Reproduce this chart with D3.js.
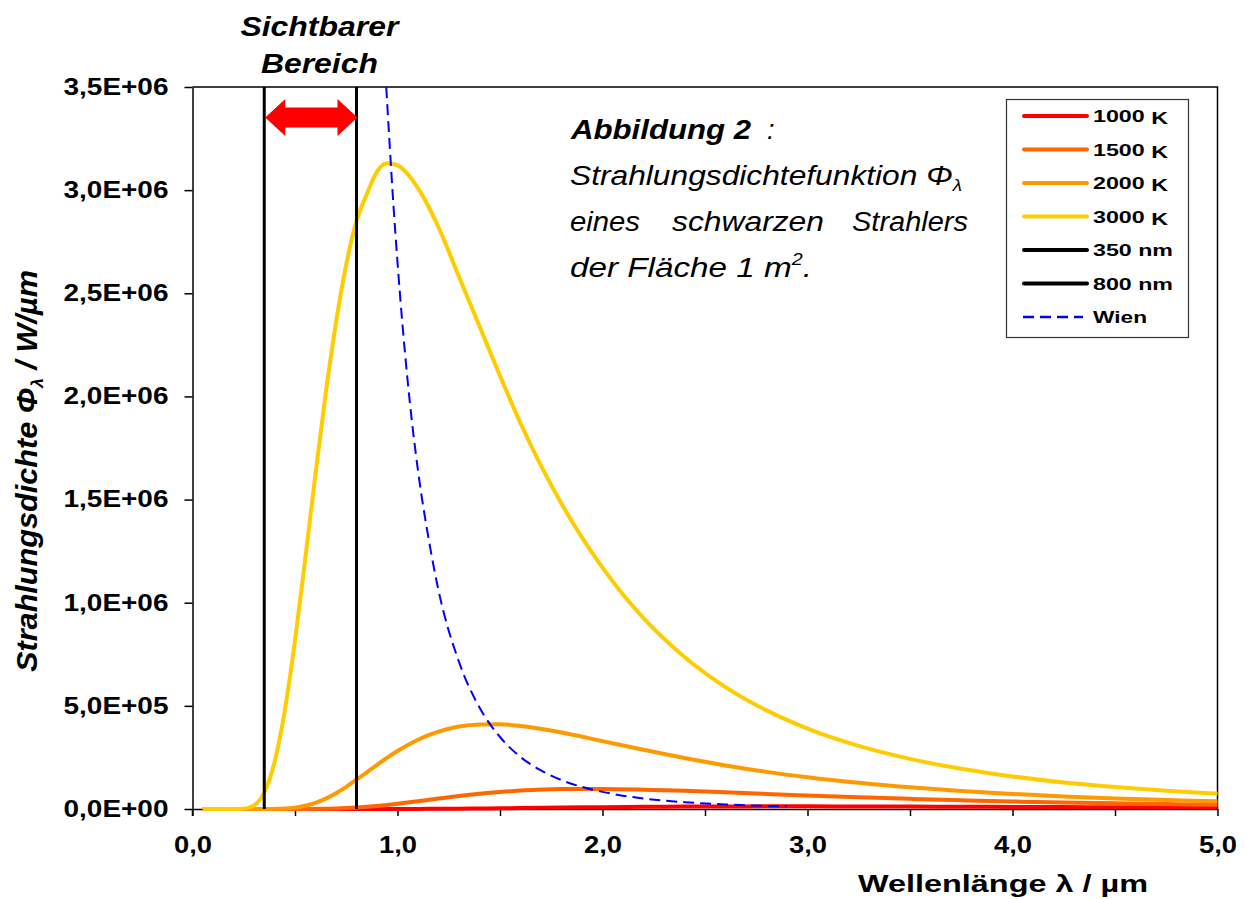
<!DOCTYPE html>
<html>
<head>
<meta charset="utf-8">
<script src="https://cdn.jsdelivr.net/npm/d3@7"></script>
<style>
  body { margin: 0; background: #fff; }
  svg { display: block; font-family: "Liberation Sans", Arial, sans-serif; }
</style>
</head>
<body>
<svg id="chart" width="1247" height="899"></svg>
<script>
// wavelength samples in µm (shared by the four temperature curves)
const wavelengths = [0.05, 0.1, 0.15, 0.2, 0.25, 0.3, 0.35, 0.4, 0.45, 0.5, 0.55, 0.6, 0.65, 0.7, 0.75, 0.8, 0.85, 0.9, 0.95, 1.0,
  1.1, 1.2, 1.3, 1.4, 1.5, 1.6, 1.8, 2.0, 2.2, 2.4, 2.6, 2.8, 3.0, 3.25, 3.5, 3.75, 4.0, 4.25, 4.5, 4.75, 5.0];

const t1000 = [0, 0, 0, 0, 0, 0, 0, 0, 0, 0, 0, 0, 0, 0, 0, 0, 0, 0, 100, 211,
  484, 934, 1575, 2390, 3364, 4440, 6690, 8790, 10500, 11700, 12500, 12800, 12800, 12500, 11900, 11100, 10300, 9470, 8640, 7850, 7140];
const t1500 = [0, 0, 0, 0, 0, 0, 0, 0, 0, 56, 198, 547, 1260, 2500, 4400, 7090, 10600, 14900, 19900, 25500,
  37900, 50800, 63000, 73700, 82500, 89100, 96600, 97400, 93900, 88000, 80800, 73100, 65600, 56900, 49200, 42400, 36500, 31500, 27300, 23700, 20600];
const t2000 = [0, 0, 0, 0, 0, 0, 0, 566, 2300, 6750, 15500, 29900, 50300, 76600, 107600, 142000, 178000, 214000, 249000, 281000,
  336000, 375000, 400000, 410000, 411000, 402000, 371000, 329000, 287000, 247000, 211000, 180000, 154000, 127000, 105000, 87000, 73000, 61000, 51000, 44000, 37000];
const t3000 = [0, 0, 0, 0, 1800, 17500, 80000, 227000, 476000, 817000, 1213000, 1625000, 2016000, 2358000, 2640000, 2850000, 2980000, 3090000, 3130000, 3120000,
  3010000, 2820000, 2580000, 2340000, 2100000, 1870000, 1480000, 1170000, 925000, 737000, 591000, 478000, 390000, 306000, 243000, 195000, 158000, 129000, 107000, 89000, 74000];

// Wien's displacement locus (peak of each curve)
const wienL = [0.945, 0.96, 0.98, 1.0, 1.05, 1.1, 1.15, 1.2, 1.3, 1.4, 1.5, 1.6, 1.7, 1.8, 1.9, 2.0, 2.2, 2.4, 2.6, 2.8, 2.9];
const wienV = [3500000, 3250000, 2930000, 2650000, 2070000, 1640000, 1320000, 1060000, 713000, 492000, 349000, 252000, 187000, 140000, 107000, 83000, 51000, 33000, 22000, 15000, 13000];

// visible range markers (µm)
const visibleRange = [0.35, 0.8];

const seriesNames = ["1000 K", "1500 K", "2000 K", "3000 K"];
const seriesColors = ["#ff0000", "#ff6600", "#ff9900", "#ffcc00"];
const seriesValues = [t1000, t1500, t2000, t3000];

const xTicks = [0, 0.5, 1, 1.5, 2, 2.5, 3, 3.5, 4, 4.5, 5];
const yTicks = [0, 500000, 1000000, 1500000, 2000000, 2500000, 3000000, 3500000];
const yTickLabels = ["0,0E+00", "5,0E+05", "1,0E+06", "1,5E+06", "2,0E+06", "2,5E+06", "3,0E+06", "3,5E+06"];

const plot = {left: 192.5, right: 1217.5, top: 87, bottom: 809};

const svg = d3.select("#chart");

const x = d3.scaleLinear().domain([0, 5]).range([plot.left, plot.right]);
const y = d3.scaleLinear().domain([0, 3500000]).range([plot.bottom, plot.top]);

// frame (top and right)
svg.append("path")
  .attr("d", `M${plot.left},${plot.top}H${plot.right}V${plot.bottom}`)
  .attr("fill", "none")
  .attr("stroke", "#000")
  .attr("stroke-width", 1.5);

// axes
const yAxis = svg.append("g")
  .attr("transform", `translate(${plot.left},0)`)
  .call(d3.axisLeft(y).tickValues(yTicks).tickSize(8).tickSizeOuter(0).tickPadding(16)
    .tickFormat((d, i) => yTickLabels[i]));
const xAxis = svg.append("g")
  .attr("transform", `translate(0,${plot.bottom})`)
  .call(d3.axisBottom(x).tickValues(xTicks).tickSize(7).tickSizeOuter(0).tickPadding(21)
    .tickFormat(d => Number.isInteger(d) ? d.toFixed(1).replace(".", ",") : ""));

[yAxis, xAxis].forEach(g => {
  g.select(".domain").attr("stroke", "#000").attr("stroke-width", 1.5);
  g.selectAll(".tick line").attr("stroke", "#000").attr("stroke-width", 1.5);
  g.selectAll("text")
    .attr("fill", "#000")
    .attr("font-family", "'Liberation Sans', Arial, sans-serif")
    .attr("font-size", 23)
    .attr("font-weight", "bold")
    .attr("lengthAdjust", "spacingAndGlyphs");
});
yAxis.selectAll("text").attr("textLength", 105);
xAxis.selectAll("text").filter(d => Number.isInteger(d)).attr("textLength", 38);
// extend the y axis slightly below zero like the original
yAxis.append("line").attr("x1", 0).attr("x2", 0).attr("y1", plot.bottom).attr("y2", plot.bottom + 7)
  .attr("stroke", "#000").attr("stroke-width", 1.5);

// temperature curves
const line = d3.line()
  .x((d, i) => x(wavelengths[i]))
  .y(d => y(d))
  .curve(d3.curveMonotoneX);

svg.append("g").selectAll("path")
  .data(seriesValues)
  .join("path")
    .attr("d", line)
    .attr("fill", "none")
    .attr("stroke", (d, i) => seriesColors[i])
    .attr("stroke-width", 4)
    .attr("stroke-linejoin", "round");

// visible range lines
svg.append("g").selectAll("line")
  .data(visibleRange)
  .join("line")
    .attr("x1", d => x(d)).attr("x2", d => x(d))
    .attr("y1", y(0)).attr("y2", y(3500000))
    .attr("stroke", "#000")
    .attr("stroke-width", 3);

// Wien curve
const wienLine = d3.line()
  .x((d, i) => x(wienL[i]))
  .y(d => y(d))
  .curve(d3.curveMonotoneX);
svg.append("path")
  .datum(wienV)
  .attr("d", wienLine)
  .attr("fill", "none")
  .attr("stroke", "#0000ff")
  .attr("stroke-width", 2)
  .attr("stroke-dasharray", "11,6");

// double arrow between the two markers
const ax0 = x(visibleRange[0]) + 1, ax1 = x(visibleRange[1]) + 1, ay = 117.5;
const head = 20, hh = 18.5, sh = 10;
svg.append("path")
  .attr("d", `M${ax0},${ay} L${ax0 + head},${ay - hh} V${ay - sh} H${ax1 - head} V${ay - hh} L${ax1},${ay}
    L${ax1 - head},${ay + hh} V${ay + sh} H${ax0 + head} V${ay + hh} Z`)
  .attr("fill", "#ff0000");

// "Sichtbarer Bereich"
const midVis = (x(visibleRange[0]) + x(visibleRange[1])) / 2 + 9;
[["Sichtbarer", 36, 158], ["Bereich", 73, 117]].forEach(([t, by, len]) => {
  svg.append("text")
    .attr("x", midVis).attr("y", by)
    .attr("text-anchor", "middle")
    .attr("font-size", 28).attr("font-weight", "bold").attr("font-style", "italic")
    .attr("textLength", len).attr("lengthAdjust", "spacingAndGlyphs")
    .text(t);
});

// axis titles
svg.append("text")
  .attr("x", 858).attr("y", 892)
  .attr("font-size", 24).attr("font-weight", "bold")
  .attr("textLength", 290).attr("lengthAdjust", "spacingAndGlyphs")
  .text("Wellenlänge λ / µm");

const yTitle = svg.append("text")
  .attr("transform", "translate(37,471) rotate(-90)")
  .attr("text-anchor", "middle")
  .attr("font-size", 29).attr("font-weight", "bold").attr("font-style", "italic")
  .attr("textLength", 402).attr("lengthAdjust", "spacingAndGlyphs");
yTitle.append("tspan").text("Strahlungsdichte Φ");
yTitle.append("tspan").attr("font-size", 17).attr("dy", 6).text("λ");
yTitle.append("tspan").attr("dy", -6).text(" / W/µm");

// annotation
const note = svg.append("g").attr("font-size", 27).attr("font-style", "italic");
const stretched = (sel, len) => sel.attr("textLength", len).attr("lengthAdjust", "spacingAndGlyphs");
stretched(note.append("text").attr("x", 571).attr("y", 139).attr("font-weight", "bold").text("Abbildung 2"), 180);
note.append("text").attr("x", 767).attr("y", 139).text(":");
const l2 = stretched(note.append("text").attr("x", 570).attr("y", 185), 392);
l2.append("tspan").text("Strahlungsdichtefunktion Φ");
l2.append("tspan").attr("font-size", 16).attr("dy", 6).text("λ");
stretched(note.append("text").attr("x", 570).attr("y", 231).text("eines"), 70);
stretched(note.append("text").attr("x", 672).attr("y", 231).text("schwarzen"), 152);
stretched(note.append("text").attr("x", 852).attr("y", 231).text("Strahlers"), 116);
const l4 = stretched(note.append("text").attr("x", 570).attr("y", 277), 242);
l4.append("tspan").text("der Fläche 1 m");
l4.append("tspan").attr("font-size", 16).attr("dy", -12).text("2");
l4.append("tspan").attr("dy", 12).text(".");

// legend
const legendItems = [
  {label: "1000 ", unit: "K", color: seriesColors[0], len: 75},
  {label: "1500 ", unit: "K", color: seriesColors[1], len: 75},
  {label: "2000 ", unit: "K", color: seriesColors[2], len: 75},
  {label: "3000 ", unit: "K", color: seriesColors[3], len: 75},
  {label: "350 nm", unit: "", color: "#000", len: 80},
  {label: "800 nm", unit: "", color: "#000", len: 80},
  {label: "Wien", unit: "", color: "#0000ff", len: 54, dashed: true}
];
const legend = svg.append("g");
legend.append("rect")
  .attr("x", 1006.5).attr("y", 99.5).attr("width", 182).attr("height", 238)
  .attr("fill", "#fff").attr("stroke", "#333").attr("stroke-width", 1.2);
const rows = legend.selectAll("g.row")
  .data(legendItems)
  .join("g")
    .attr("class", "row")
    .attr("transform", (d, i) => `translate(0,${116 + i * 33.5})`);
rows.append("line")
  .attr("x1", d => d.dashed ? 1023 : 1024).attr("x2", d => d.dashed ? 1083 : 1087)
  .attr("stroke", d => d.color)
  .attr("stroke-width", d => d.dashed ? 2.5 : 4)
  .attr("stroke-linecap", d => d.dashed ? "butt" : "round")
  .attr("stroke-dasharray", d => d.dashed ? "11,6" : null);
const lt = rows.append("text")
  .attr("x", 1093).attr("y", 6)
  .attr("font-size", 17).attr("font-weight", "bold")
  .attr("textLength", d => d.len).attr("lengthAdjust", "spacingAndGlyphs");
lt.append("tspan").text(d => d.label);
lt.append("tspan").attr("dy", 2).text(d => d.unit);
</script>
</body>
</html>
